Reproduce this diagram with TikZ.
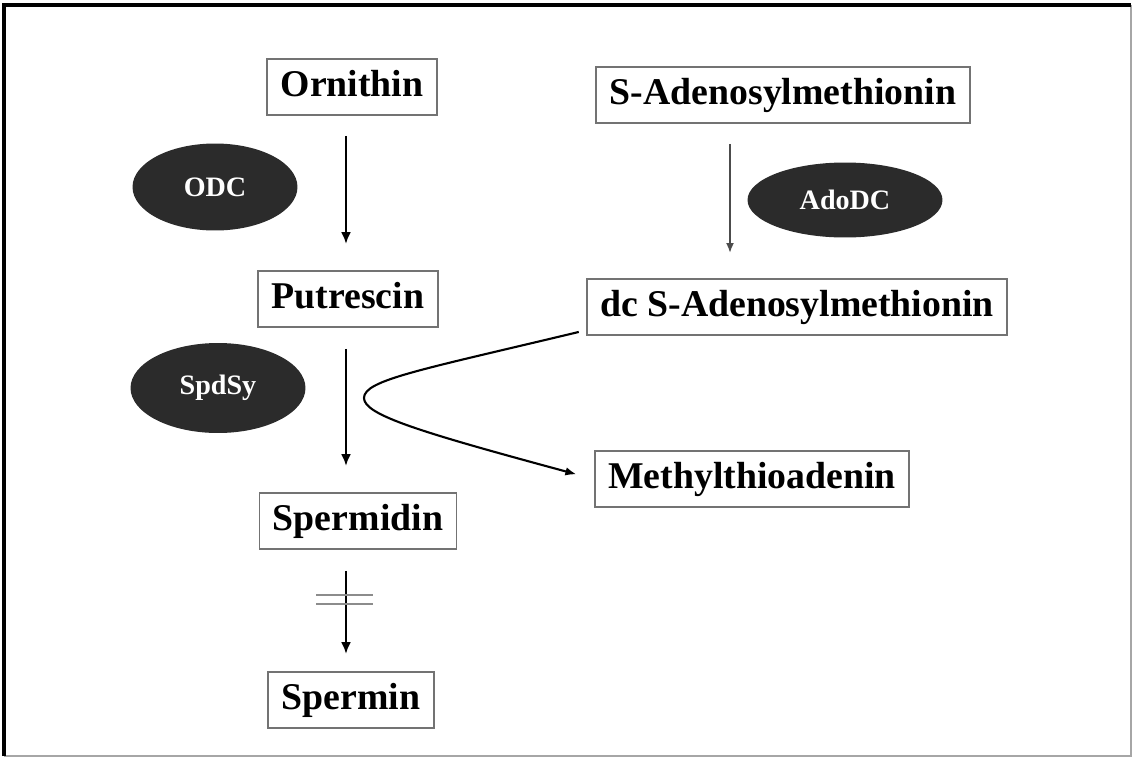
\documentclass[tikz,border=0pt]{standalone}
\usepackage{fontspec}
\setmainfont{Liberation Serif}
\usepackage{tikz}
\usetikzlibrary{arrows.meta,shapes.geometric,positioning}

\tikzset{
  substrate/.style={draw=black!55, line width=1.1pt, fill=white, inner xsep=0.27cm,
    inner ysep=0.23cm, text height=0.52cm, text depth=0.14cm,
    font=\fontsize{21.5pt}{24pt}\selectfont\bfseries},
  enzyme/.style={ellipse, fill=black!83, inner sep=0pt, text=white,
    font=\fontsize{16pt}{18pt}\selectfont\bfseries},
  flow/.style={->, line width=1.5pt},
}

\begin{document}
\begin{tikzpicture}[x=0.02cm, y=-0.02cm, >={Latex[length=0.24cm,width=0.2cm]}]
\useasboundingbox (0,0) rectangle (1133,758);
\draw [black!35, line width=1.6pt] (1131,5) -- (1131,756) -- (4,756);
\draw [black, line width=2.2pt] (4,756) -- (4,5) -- (1131,5);

\coordinate (lx) at (346,0);
\coordinate (rx) at (730,0);

\node [substrate] (orn) at (352,87) {Ornithin};
\node [substrate] (put) at (348,299) {Putrescin};
\node [substrate] (spd) at (358,521) {Spermidin};
\node [substrate] (spm) at (351,700) {Spermin};
\node [substrate] (sam) at (783,95) {S-Adenosylmethionin};
\node [substrate] (dcsam) at (797,307) {dc S-Adenosylmethionin};
\node [substrate] (mta) at (752,479) {Methylthioadenin};

\node [enzyme, minimum width=3.3cm, minimum height=1.74cm] (odc) at (215,187) {ODC};
\node [enzyme, minimum width=3.9cm, minimum height=1.5cm] (adodc) at (845,200) {AdoDC};
\node [enzyme, minimum width=3.5cm, minimum height=1.8cm] (spdsy) at (218,388) {SpdSy};

\path [flow]
(orn.south -| lx) edge [shorten <=0.4cm, shorten >=0.52cm] (put.north -| lx)
(put.south -| lx) edge [shorten <=0.42cm, shorten >=0.52cm] (spd.north -| lx)
(spd.south -| lx) edge [shorten <=0.42cm, shorten >=0.34cm] (spm.north -| lx);
\draw [->, >={Latex[length=0.2cm,width=0.16cm]}, black!70, line width=1.1pt,
  shorten <=0.4cm, shorten >=0.5cm] (sam.south -| rx) -- (dcsam.north -| rx);

% blocked step
\draw [black!45, line width=0.9pt] (316,595) -- (373,595) (316,604) -- (373,604);

\draw [->, >={Latex[length=0.22cm,width=0.17cm]}, line width=1.2pt, shorten >=0.36cm]
  ([xshift=-0.14cm, yshift=0.08cm]dcsam.south west)
  .. controls (420,370) and (364,380) .. (364,398)
  .. controls (364,415) and (420,432) .. (mta.west);
\end{tikzpicture}
\end{document}
